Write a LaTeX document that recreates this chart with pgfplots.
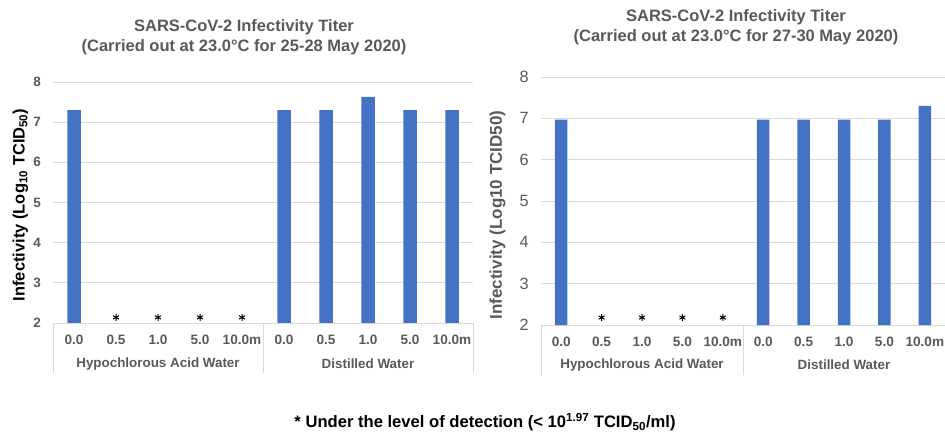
\documentclass[border=0pt]{standalone}
\usepackage{fontspec}
\setmainfont{Liberation Sans}
\usepackage{pgfplots}
\pgfplotsset{compat=1.18}
\definecolor{barblue}{HTML}{4472C4}
\definecolor{txtgray}{HTML}{595959}
\definecolor{gridgray}{HTML}{D9D9D9}
\pgfplotsset{
  common/.style={
    scale only axis,
    clip mode=individual,
    xmin=-0.5, xmax=9.5, ymin=2, ymax=8,
    ytick={2,...,8},
    xtick={0,...,9},
    xticklabels={0.0,0.5,1.0,5.0,10.0m,0.0,0.5,1.0,5.0,10.0m},
    axis x line*=bottom, axis y line*=left,
    y axis line style={draw=none},
    x axis line style={draw=gridgray, line width=0.8pt},
    ymajorgrids, grid style={draw=gridgray, line width=0.8pt},
    major tick length=0pt,
    xticklabel style={font=\fontsize{13.6}{16}\selectfont\bfseries, text=txtgray, yshift=-8pt},
    extra x ticks={-0.5,4.5,9.5},
    extra x tick labels={},
    extra x tick style={grid=none, major tick length=50pt, tick align=outside, tick style={draw=gridgray, line width=0.8pt}},
    /pgf/number format/assume math mode=true,
  }
}
\begin{document}
\begin{tikzpicture}
\useasboundingbox (0pt,0pt) rectangle (945pt,434pt);
% left chart
\begin{axis}[common, at={(53pt,111pt)}, anchor=south west, width=420pt, height=241pt,
  yticklabel style={font=\fontsize{13.5}{16}\selectfont\bfseries, text=txtgray, xshift=-8.5pt},
  ylabel={Infectivity (Log\textsubscript{10} TCID\textsubscript{50})},
  ylabel style={font=\fontsize{16.5}{20}\selectfont\bfseries, text=black, at={(axis description cs:-0.0774,0.49)}, anchor=center}]
\addplot[ybar, bar width=13.5pt, fill=barblue, draw=none] coordinates {(0,7.3)(5,7.3)(6,7.3)(7,7.63)(8,7.3)(9,7.3)};
\addplot[only marks, mark=asterisk, mark size=3.4pt, mark options={line width=1pt}, black] coordinates {(1,2.14)(2,2.14)(3,2.14)(4,2.14)};
\node[font=\fontsize{13.4}{16}\selectfont\bfseries, text=txtgray] at (axis cs:2,2) [yshift=-41pt] {Hypochlorous Acid Water};
\node[font=\fontsize{13.4}{16}\selectfont\bfseries, text=txtgray] at (axis cs:7,2) [yshift=-41pt] {Distilled Water};
\end{axis}
% right chart
\begin{axis}[common, at={(541pt,109pt)}, anchor=south west, width=404pt, height=248pt,
  yticklabel style={font=\fontsize{16.3}{19}\selectfont, text=txtgray, xshift=-8.7pt},
  ylabel={Infectivity (Log10 TCID50)},
  ylabel style={font=\fontsize{17}{20}\selectfont\bfseries, text=txtgray, at={(axis description cs:-0.1077,0.4435)}, anchor=center}]
\addplot[ybar, bar width=12.5pt, fill=barblue, draw=none] coordinates {(0,6.97)(5,6.97)(6,6.97)(7,6.97)(8,6.97)(9,7.3)};
\addplot[only marks, mark=asterisk, mark size=3.4pt, mark options={line width=1pt}, black] coordinates {(1,2.18)(2,2.18)(3,2.18)(4,2.18)};
\node[font=\fontsize{13.4}{16}\selectfont\bfseries, text=txtgray] at (axis cs:2,2) [yshift=-40pt] {Hypochlorous Acid Water};
\node[font=\fontsize{13.4}{16}\selectfont\bfseries, text=txtgray] at (axis cs:7,2) [yshift=-40pt] {Distilled Water};
\end{axis}
% titles
\node[align=center, font=\fontsize{16.5}{20}\selectfont\bfseries, text=txtgray] at (244pt,397pt) {SARS-CoV-2 Infectivity Titer\\(Carried out at 23.0°C for 25-28 May 2020)};
\node[align=center, font=\fontsize{16.5}{20}\selectfont\bfseries, text=txtgray] at (736pt,406.5pt) {SARS-CoV-2 Infectivity Titer\\(Carried out at 23.0°C for 27-30 May 2020)};
% footnote
\node[font=\fontsize{16.6}{19}\selectfont\bfseries, text=black] at (485pt,12pt) {* Under the level of detection (< 10\textsuperscript{1.97} TCID\textsubscript{50}/ml)};
\end{tikzpicture}
\end{document}
